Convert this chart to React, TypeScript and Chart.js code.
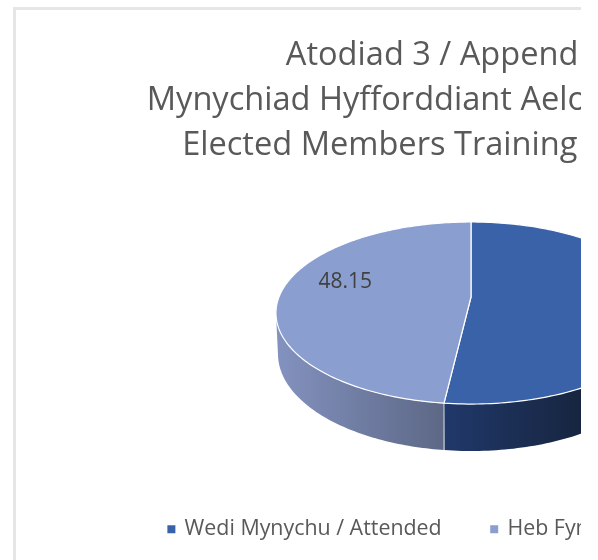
import React, { useEffect, useRef } from "react";
import { Chart, registerables } from "chart.js";

Chart.register(...registerables);

const categories = ["Wedi Mynychu / Attended", "Heb Fynychu / Not Attended"];
const values = [51.85, 48.15];
const topColors = ["#3a62a8", "#8b9ed0"];
const wallStops = [
  ["#20386a", "#111925"],
  ["#5d6886", "#8392bf"],
];
const labelRadii = [0.85, 0.66];
const titleLines = [
  "Atodiad 3 / Appendix 3\u00A0\u00A0\u00A0",
  "Mynychiad Hyfforddiant Aelodau Etholedig",
  "Elected Members Training Attendance",
];

const FONT = "'Open Sans', sans-serif";

// perspective of the disc, in canvas pixels
const P = { y0: 287, b: 0.176, c: 88.2, R: 192, wallCy: 344, wallRx: 193, wallRy: 97 };

function projectRho(cx: number, theta: number, rho: number) {
  const u = rho * Math.sin(theta);
  const v = -rho * Math.cos(theta);
  const d = 1 - P.b * v;
  return { x: cx + (P.R * u) / d, y: P.y0 + (P.c * v) / d };
}
function project(cx: number, theta: number) {
  return projectRho(cx, theta, 1);
}
function lowerY(cx: number, x: number) {
  const t = Math.min(1, Math.abs(x - cx) / P.wallRx);
  return P.wallCy + P.wallRy * Math.sqrt(1 - t * t);
}

const pie3d = {
  id: "pie3d",
  afterLayout(chart: any) {
    chart.legend.left += 16;
  },
  beforeDatasetDraw(chart: any) {
    const ctx = chart.ctx;
    const arcs = chart.getDatasetMeta(0).data;
    const cx = arcs[0].x;
    const span = (a: any) => {
      const { startAngle, endAngle } = a.getProps(["startAngle", "endAngle"], true);
      return [startAngle + Math.PI / 2, endAngle + Math.PI / 2];
    };
    // side wall, between the two silhouette points of the top face
    const rightLimit = Math.PI / 2 + Math.asin(P.b);
    const leftLimit = (3 * Math.PI) / 2 - Math.asin(P.b);
    arcs.forEach((a: any, i: number) => {
      const [s, e] = span(a);
      const from = Math.max(s, rightLimit);
      const to = Math.min(e, leftLimit);
      if (to <= from) return;
      const top: { x: number; y: number }[] = [];
      for (let k = 0; k <= 80; k++) top.push(project(cx, from + ((to - from) * k) / 80));
      ctx.beginPath();
      top.forEach((p, k) => (k ? ctx.lineTo(p.x, p.y) : ctx.moveTo(p.x, p.y)));
      for (let k = top.length - 1; k >= 0; k--) {
        const x = cx + ((top[k].x - cx) * P.wallRx) / 195;
        ctx.lineTo(x, lowerY(cx, x));
      }
      ctx.closePath();
      const xs = top.map((p) => p.x);
      const g = ctx.createLinearGradient(Math.min(...xs), 0, Math.max(...xs), 0);
      if (i === 0) {
        g.addColorStop(0, wallStops[0][0]);
        g.addColorStop(1, wallStops[0][1]);
      } else {
        g.addColorStop(0, wallStops[1][1]);
        g.addColorStop(1, wallStops[1][0]);
      }
      ctx.fillStyle = g;
      ctx.fill();
    });
    // seam on the wall
    const [, seam] = span(arcs[0]);
    const sp = project(cx, seam);
    ctx.strokeStyle = "rgba(255,255,255,0.75)";
    ctx.lineWidth = 1;
    ctx.beginPath();
    ctx.moveTo(sp.x, sp.y);
    ctx.lineTo(sp.x, lowerY(cx, sp.x));
    ctx.stroke();
    // top face
    arcs.forEach((a: any, i: number) => {
      const [s, e] = span(a);
      ctx.beginPath();
      ctx.moveTo(cx, P.y0);
      for (let k = 0; k <= 160; k++) {
        const p = project(cx, s + ((e - s) * k) / 160);
        ctx.lineTo(p.x, p.y);
      }
      ctx.closePath();
      ctx.fillStyle = topColors[i];
      ctx.fill();
      ctx.strokeStyle = "#ffffff";
      ctx.lineWidth = 1.2;
      ctx.lineJoin = "round";
      ctx.stroke();
    });
    // value labels
    ctx.fillStyle = "#404040";
    ctx.font = `21px ${FONT}`;
    ctx.textAlign = "center";
    ctx.textBaseline = "middle";
    arcs.forEach((a: any, i: number) => {
      const [s, e] = span(a);
      const p = projectRho(cx, (s + e) / 2, labelRadii[i]);
      ctx.fillText(String(values[i]), p.x, p.y - 12);
    });
    return false;
  },
};

export default function App() {
  const ref = useRef<HTMLCanvasElement>(null);
  useEffect(() => {
    const chart = new Chart(ref.current!, {
      type: "pie",
      data: {
        labels: categories,
        datasets: [{ data: values, backgroundColor: topColors, borderWidth: 0 }],
      },
      plugins: [pie3d],
      options: {
        responsive: false,
        animation: false,
        layout: { padding: { top: 0, bottom: 10 } },
        plugins: {
          tooltip: { enabled: false },
          title: {
            display: true,
            text: titleLines,
            color: "#595959",
            font: { family: FONT, size: 32.6, weight: "normal", lineHeight: 1.38 },
            padding: { top: 23, bottom: 40 },
          },
          legend: {
            position: "bottom",
            labels: {
              usePointStyle: true,
              pointStyle: "rect",
              boxWidth: 5,
              boxHeight: 8,
              padding: 50,
              color: "#595959",
              font: { family: FONT, size: 21.4 },
            },
          },
        },
      },
    } as any);
    return () => chart.destroy();
  }, []);
  return (
    <div
      style={{
        position: "absolute",
        left: 13,
        top: 7,
        width: 568,
        height: 553,
        overflow: "hidden",
        borderLeft: "3px solid #e6e6e6",
        borderTop: "3px solid #e6e6e6",
        boxSizing: "border-box",
        background: "#fff",
      }}
    >
      <canvas ref={ref} width={910} height={550} style={{ display: "block" }} />
    </div>
  );
}
